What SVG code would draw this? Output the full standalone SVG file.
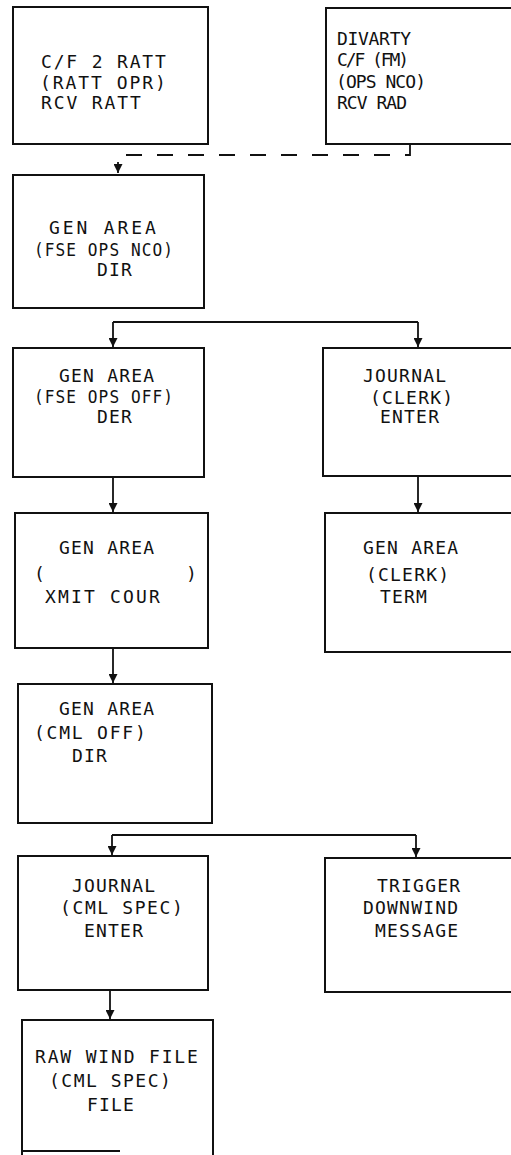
<svg xmlns="http://www.w3.org/2000/svg" width="511" height="1155" viewBox="0 0 511 1155">
<style>
.box{fill:none;stroke:#111;stroke-width:2}
.t{font-family:"DejaVu Sans Mono","Liberation Mono",monospace;font-size:18px;letter-spacing:1.2px;fill:#111}
.n{letter-spacing:0}
.c{fill:none;stroke:#111;stroke-width:1.8}
.d{stroke-dasharray:16 15}
</style>
<defs>
<marker id="ah" viewBox="0 0 10 10" refX="10" refY="5" markerWidth="10" markerHeight="9" markerUnits="userSpaceOnUse" orient="auto">
<path d="M0,0 L10,5 L0,10 Z" fill="#111"/>
</marker>
</defs>
<rect width="511" height="1155" fill="#fff"/>
<g id="connectors">
<path class="c d" d="M410,144 V155 H118 V173" marker-end="url(#ah)"/>
<path class="c" d="M113,322 H418"/>
<path class="c" d="M113,322 V347" marker-end="url(#ah)"/>
<path class="c" d="M418,322 V347" marker-end="url(#ah)"/>
<path class="c" d="M113,477 V512" marker-end="url(#ah)"/>
<path class="c" d="M418,476 V512" marker-end="url(#ah)"/>
<path class="c" d="M113,648 V683" marker-end="url(#ah)"/>
<path class="c" d="M112,835 H416"/>
<path class="c" d="M112,835 V855" marker-end="url(#ah)"/>
<path class="c" d="M416,835 V857" marker-end="url(#ah)"/>
<path class="c" d="M110,990 V1019" marker-end="url(#ah)"/>
</g>
<g id="n1">
<rect class="box" x="13" y="7" width="195" height="137"/>
<text class="t" x="41" y="68" textLength="126">C/F 2 RATT</text>
<text class="t" x="40" y="89" textLength="127">(RATT OPR)</text>
<text class="t" x="41" y="109" textLength="101">RCV RATT</text>
</g>
<g id="n2">
<rect class="box" x="326" y="8" width="200" height="136"/>
<text class="t n" x="337" y="45" textLength="74">DIVARTY</text>
<text class="t n" x="337" y="66" textLength="72">C/F (FM)</text>
<text class="t n" x="336" y="88" textLength="90">(OPS NCO)</text>
<text class="t n" x="337" y="109" textLength="70">RCV RAD</text>
</g>
<g id="n3">
<rect class="box" x="13" y="175" width="191" height="133"/>
<text class="t" x="49" y="234" textLength="108">GEN AREA</text>
<text class="t" x="34" y="256" textLength="140" lengthAdjust="spacingAndGlyphs">(FSE OPS NCO)</text>
<text class="t" x="97" y="276">DIR</text>
</g>
<g id="n4">
<rect class="box" x="13" y="348" width="191" height="129"/>
<text class="t" x="59" y="382">GEN AREA</text>
<text class="t" x="34" y="403" textLength="140" lengthAdjust="spacingAndGlyphs">(FSE OPS OFF)</text>
<text class="t" x="97" y="423">DER</text>
</g>
<g id="n5">
<rect class="box" x="323" y="348" width="200" height="128"/>
<text class="t" x="363" y="382">JOURNAL</text>
<text class="t" x="370" y="404">(CLERK)</text>
<text class="t" x="380" y="423">ENTER</text>
</g>
<g id="n6">
<rect class="box" x="15" y="513" width="193" height="135"/>
<text class="t" x="59" y="554">GEN AREA</text>
<text class="t" x="34" y="580">(</text>
<text class="t" x="186" y="580">)</text>
<text class="t" x="45" y="603" textLength="116">XMIT COUR</text>
</g>
<g id="n7">
<rect class="box" x="325" y="513" width="200" height="139"/>
<text class="t" x="363" y="554">GEN AREA</text>
<text class="t" x="366" y="581">(CLERK)</text>
<text class="t" x="380" y="603">TERM</text>
</g>
<g id="n8">
<rect class="box" x="18" y="684" width="194" height="139"/>
<text class="t" x="59" y="715">GEN AREA</text>
<text class="t" x="34" y="739" textLength="113">(CML OFF)</text>
<text class="t" x="72" y="762">DIR</text>
</g>
<g id="n9">
<rect class="box" x="18" y="856" width="190" height="134"/>
<text class="t" x="72" y="892">JOURNAL</text>
<text class="t" x="60" y="914" textLength="124">(CML SPEC)</text>
<text class="t" x="84" y="937">ENTER</text>
</g>
<g id="n10">
<rect class="box" x="325" y="858" width="200" height="134"/>
<text class="t" x="377" y="892">TRIGGER</text>
<text class="t" x="363" y="914">DOWNWIND</text>
<text class="t" x="375" y="937">MESSAGE</text>
</g>
<g id="n11">
<path class="box" d="M22,1160 V1020 H213 V1160"/>
<path class="box" d="M22,1151 H120"/>
<text class="t" x="35" y="1063" textLength="164">RAW WIND FILE</text>
<text class="t" x="49" y="1087" textLength="123">(CML SPEC)</text>
<text class="t" x="87" y="1111">FILE</text>
</g>
</svg>
